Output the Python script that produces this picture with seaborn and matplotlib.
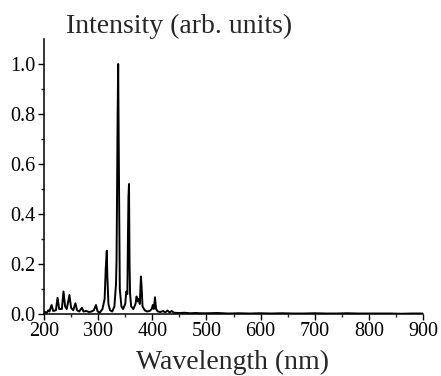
import matplotlib
matplotlib.use("Agg")
import matplotlib.pyplot as plt
import seaborn as sns
import pandas as pd

wavelength = [200, 205, 208, 210, 214, 217, 222, 225, 228, 233, 236, 239, 242, 247, 250, 254,
              258, 261, 265, 270, 273, 278, 283, 288, 292, 296, 299, 303, 308, 312, 314, 316,
              317, 319, 322, 326, 330, 333, 334, 336, 337, 338, 340, 343, 346, 350, 352, 354,
              355, 356, 357, 358, 359, 361, 365, 369, 371, 373, 375, 377, 379, 380, 382, 386,
              390, 395, 399, 401, 403, 405, 407, 410, 415, 420, 424, 428, 432, 436, 440, 450,
              460, 470, 480, 490, 500, 520, 540, 560, 580, 600, 620, 640, 660, 680, 700, 720,
              740, 760, 780, 800, 820, 840, 860, 880, 900]
intensity = [0.010, 0.005, 0.015, 0.010, 0.036, 0.012, 0.015, 0.065, 0.020, 0.020, 0.090, 0.030,
             0.020, 0.076, 0.025, 0.015, 0.043, 0.015, 0.010, 0.025, 0.010, 0.012, 0.008, 0.010,
             0.015, 0.036, 0.010, 0.005, 0.020, 0.060, 0.180, 0.253, 0.150, 0.040, 0.015, 0.010,
             0.030, 0.120, 0.216, 0.800, 1.000, 0.680, 0.100, 0.030, 0.020, 0.040, 0.090, 0.080,
             0.300, 0.470, 0.520, 0.200, 0.080, 0.030, 0.020, 0.040, 0.070, 0.050, 0.060, 0.040,
             0.150, 0.120, 0.030, 0.015, 0.010, 0.012, 0.020, 0.036, 0.020, 0.067, 0.020, 0.010,
             0.008, 0.012, 0.006, 0.014, 0.006, 0.012, 0.005, 0.004, 0.005, 0.003, 0.004, 0.003,
             0.003, 0.004, 0.002, 0.003, 0.002, 0.003, 0.002, 0.003, 0.002, 0.002, 0.003, 0.002,
             0.002, 0.003, 0.002, 0.002, 0.002, 0.002, 0.001, 0.002, 0.002]

x_ticks = [200, 300, 400, 500, 600, 700, 800, 900]
y_ticks = [0.0, 0.2, 0.4, 0.6, 0.8, 1.0]

df = pd.DataFrame({"Wavelength": wavelength, "Intensity": intensity})

sns.set_style("ticks")
plt.rcParams["font.family"] = ["Liberation Serif", "DejaVu Serif"]

fig = plt.figure(figsize=(4.41, 3.76), dpi=100)
ax = fig.add_axes([44/441, 1-314/376, (423-44)/441, (314-39)/376])
sns.lineplot(data=df, x="Wavelength", y="Intensity", color="black", lw=1.4,
             estimator=None, sort=False, ax=ax)

ax.set_xlim(200, 900)
ax.set_ylim(0, 1.1)
ax.set_xticks(x_ticks)
ax.set_xticks(range(250, 900, 100), minor=True)
ax.set_yticks(y_ticks)
ax.set_yticks([0.1, 0.3, 0.5, 0.7, 0.9], minor=True)
ax.set_yticklabels([f"{v:.1f}" for v in y_ticks])
ax.tick_params(axis="both", which="major", direction="out", length=4, width=1,
               labelsize=14.5, colors="black", pad=2)
ax.tick_params(axis="both", which="minor", direction="out", length=2.5, width=1)
for s in ["top", "right"]:
    ax.spines[s].set_visible(False)
for s in ["left", "bottom"]:
    ax.spines[s].set_linewidth(1.1)
    ax.spines[s].set_color("black")

ax.set_xlabel("")
ax.set_ylabel("")
fig.text(233/441, 1-369/376, "Wavelength (nm)", fontsize=20, ha="center", va="baseline")
fig.text(66/441, 1-33/376, "Intensity (arb. units)", fontsize=20, ha="left", va="baseline")

fig.savefig("out.png", dpi=100)
